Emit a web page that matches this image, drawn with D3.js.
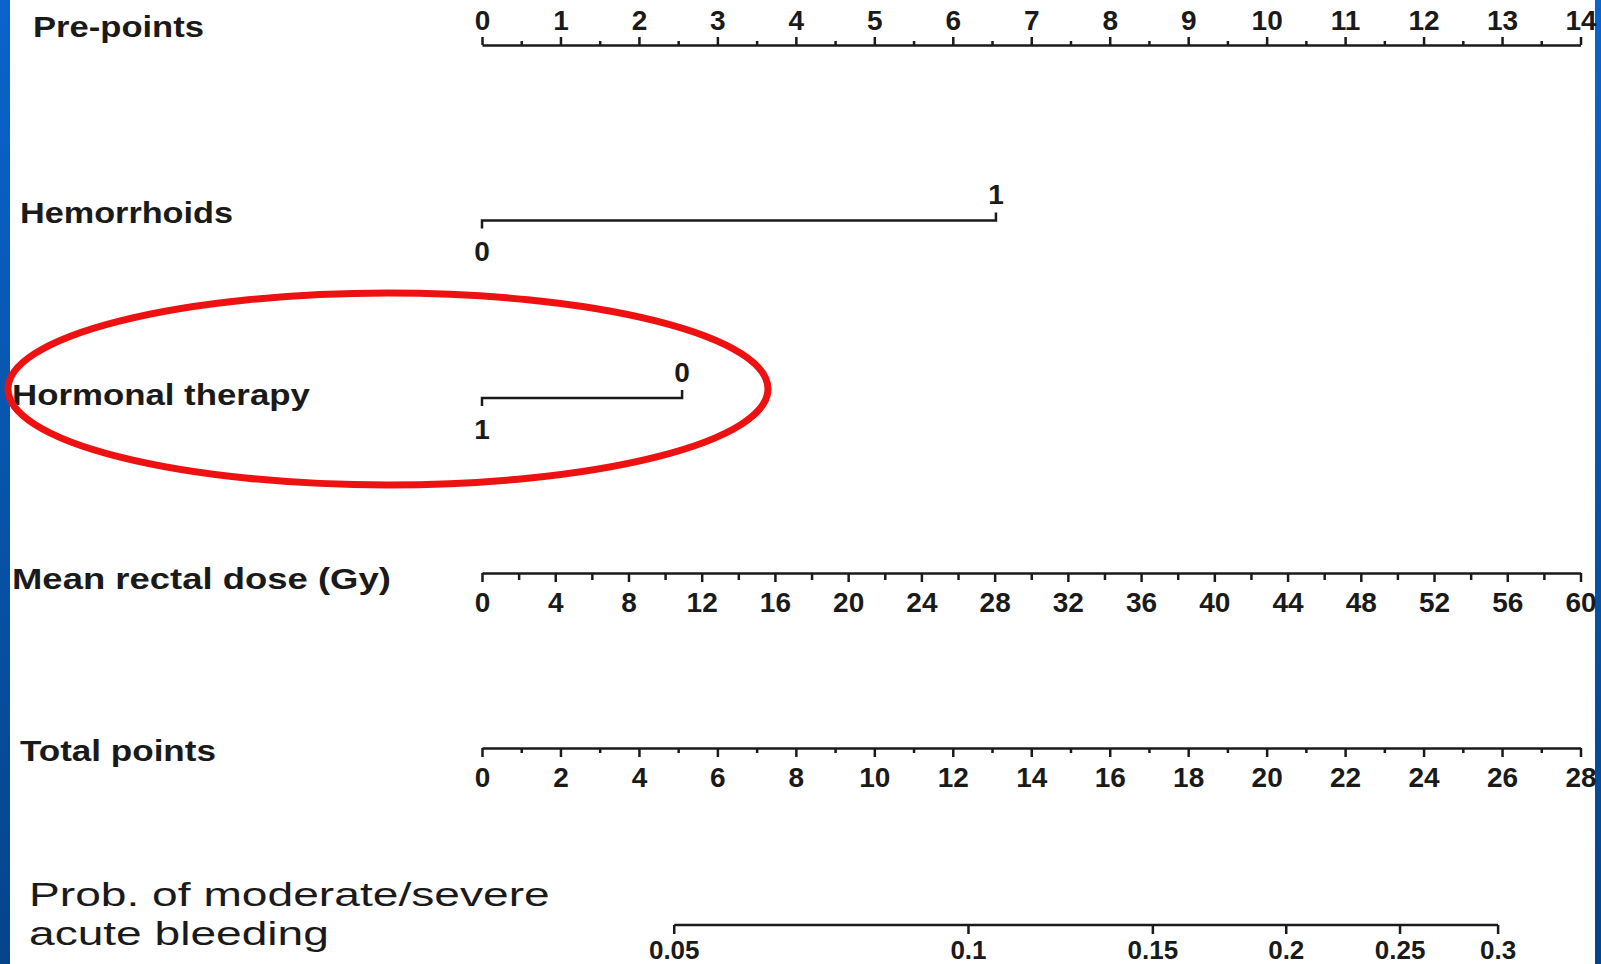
<!DOCTYPE html>
<html>
<head>
  <meta charset="utf-8">
  <title>Nomogram - acute rectal bleeding</title>
  <style>
   html,
   body {
     width: 100%;
     height: 100%;
     margin: 0;
     padding: 0;
     background: #fff;
     overflow: hidden;
   }
   svg { display: block; }
   .axis path,
   .axis line {
     stroke: #1a1a1a;
     stroke-width: 2.5px;
     fill: none;
   }
   .axis text,
   .level {
     font-family: "Liberation Sans", Arial, sans-serif;
     font-size: 28px;
     font-weight: bold;
     fill: #1a1a1a;
   }
   .title {
     font-family: "Liberation Sans", Arial, sans-serif;
     fill: #1a1a1a;
   }
 </style>
</head>
<body>
  <div id="chart"></div>

  <script src="https://d3js.org/d3.v7.min.js"></script>
  <script>
// values
var prePointTicks = [0, 1, 2, 3, 4, 5, 6, 7, 8, 9, 10, 11, 12, 13, 14];
var prePointMinor = [0.5, 1.5, 2.5, 3.5, 4.5, 5.5, 6.5, 7.5, 8.5, 9.5, 10.5, 11.5, 12.5, 13.5];

var hemorrhoidLevels = ["0", "1"];
var hemorrhoidPoints = [0, 6.55];

var hormonalLevels = ["1", "0"];
var hormonalPoints = [0, 2.55];

var doseTicks = [0, 4, 8, 12, 16, 20, 24, 28, 32, 36, 40, 44, 48, 52, 56, 60];
var doseMinor = [2, 6, 10, 14, 18, 22, 26, 30, 34, 38, 42, 46, 50, 54, 58];
var doseMaxPoints = 14;   // 60 Gy gives 14 pre-points

var totalTicks = [0, 2, 4, 6, 8, 10, 12, 14, 16, 18, 20, 22, 24, 26, 28];
var totalMinor = [1, 3, 5, 7, 9, 11, 13, 15, 17, 19, 21, 23, 25, 27];

var probTicks = [0.05, 0.1, 0.15, 0.2, 0.25, 0.3];
var probAtTotal = [4.9, 12.4, 17.1, 20.5, 23.4, 25.9];

var titles = ["Pre-points", "Hemorrhoids", "Hormonal therapy", "Mean rectal dose (Gy)", "Total points"];
var probTitle = ["Prob. of moderate/severe", "acute bleeding"];

var width = 1601;
var height = 964;

var svg = d3.select("#chart")
  .append("svg")
  .attr("width", width)
  .attr("height", height);

// blue slide frame
var grad = svg.append("defs").append("linearGradient")
  .attr("id", "frame")
  .attr("x1", 0).attr("y1", 0).attr("x2", 0).attr("y2", 1);
grad.append("stop").attr("offset", "0%").attr("stop-color", "#0a64cc");
grad.append("stop").attr("offset", "100%").attr("stop-color", "#05448a");

svg.append("rect").attr("x", 0).attr("y", 0).attr("width", 10).attr("height", height).attr("fill", "url(#frame)");
svg.append("rect").attr("x", 1595).attr("y", 0).attr("width", 6).attr("height", height).attr("fill", "url(#frame)");

// scales
var x = d3.scaleLinear().domain([0, 14]).range([482, 1580.5]);
var xDose = d3.scaleLinear().domain([0, 60]).range([x(0), x(doseMaxPoints)]);
var xTotal = d3.scaleLinear().domain([0, 28]).range([482, 1580.5]);

// stretch a text horizontally so it spans w pixels (the slide image is widened)
function stretchTo(sel, px, py, w) {
  sel.each(function(d, i) {
    var natural = this.getComputedTextLength();
    var s = w(d, i) / natural;
    d3.select(this).attr("transform",
      "translate(" + px(d, i) + "," + py(d, i) + ") scale(" + s + ",1)");
  });
}

// row titles
var titleLayout = [
  {x: 33, y: 27, w: 171},
  {x: 20, y: 213, w: 213},
  {x: 12, y: 395, w: 298},
  {x: 12, y: 579, w: 379},
  {x: 20, y: 751, w: 196}
];

var rowText = svg.selectAll(".title.row")
  .data(titles)
  .enter()
  .append("text")
  .attr("class", "title row")
  .attr("dominant-baseline", "central")
  .style("font-size", "29px")
  .style("font-weight", "bold")
  .text(function(d) { return d; });
stretchTo(rowText,
  function(d, i) { return titleLayout[i].x; },
  function(d, i) { return titleLayout[i].y; },
  function(d, i) { return titleLayout[i].w; });

var probText = svg.selectAll(".title.prob")
  .data(probTitle)
  .enter()
  .append("text")
  .attr("class", "title prob")
  .attr("dominant-baseline", "central")
  .style("font-size", "33px")
  .text(function(d) { return d; });
stretchTo(probText,
  function() { return 29; },
  function(d, i) { return 895 + i * 38; },
  function(d, i) { return i === 0 ? 521 : 300; });

// Pre-points
var preY = 45;
svg.append("g")
  .attr("class", "axis")
  .attr("transform", "translate(0," + preY + ")")
  .call(d3.axisTop(x).tickValues(prePointTicks).tickSize(8).tickSizeOuter(0).tickPadding(7));
svg.append("g")
  .attr("class", "axis")
  .attr("transform", "translate(0," + preY + ")")
  .call(d3.axisTop(x).tickValues(prePointMinor).tickSize(4).tickSizeOuter(0).tickFormat(""))
  .select(".domain").remove();

// two-level rows: low end tick down with label below, high end tick up with label above
function levelRow(y, levels, points) {
  var g = svg.append("g").attr("class", "axis");
  var x0 = x(points[0]), x1 = x(points[1]);
  g.append("path")
    .attr("d", "M" + x0 + "," + (y + 8) + "V" + y + "H" + x1 + "V" + (y - 8));
  g.append("text")
    .attr("class", "level")
    .attr("x", x0).attr("y", y + 31)
    .attr("text-anchor", "middle")
    .attr("dominant-baseline", "central")
    .text(levels[0]);
  g.append("text")
    .attr("class", "level")
    .attr("x", x1).attr("y", y - 26)
    .attr("text-anchor", "middle")
    .attr("dominant-baseline", "central")
    .text(levels[1]);
}

levelRow(220.5, hemorrhoidLevels, hemorrhoidPoints);
levelRow(398, hormonalLevels, hormonalPoints);

// Mean rectal dose
var doseY = 573;
svg.append("g")
  .attr("class", "axis")
  .attr("transform", "translate(0," + doseY + ")")
  .call(d3.axisBottom(xDose).tickValues(doseTicks).tickSize(9).tickSizeOuter(0).tickPadding(10));
svg.append("g")
  .attr("class", "axis")
  .attr("transform", "translate(0," + doseY + ")")
  .call(d3.axisBottom(xDose).tickValues(doseMinor).tickSize(7).tickFormat(""))
  .select(".domain").remove();

// Total points
var totalY = 748;
svg.append("g")
  .attr("class", "axis")
  .attr("transform", "translate(0," + totalY + ")")
  .call(d3.axisBottom(xTotal).tickValues(totalTicks).tickSize(9).tickSizeOuter(0).tickPadding(10));
svg.append("g")
  .attr("class", "axis")
  .attr("transform", "translate(0," + totalY + ")")
  .call(d3.axisBottom(xTotal).tickValues(totalMinor).tickSize(5).tickFormat(""))
  .select(".domain").remove();

// Probability
var probY = 925;
var probG = svg.append("g")
  .attr("class", "axis")
  .attr("transform", "translate(0," + probY + ")");
probG.append("path")
  .attr("d", "M" + xTotal(probAtTotal[0]) + ",0H" + xTotal(probAtTotal[probAtTotal.length - 1]));
var probTick = probG.selectAll(".ptick")
  .data(probTicks)
  .enter()
  .append("g")
  .attr("class", "ptick")
  .attr("transform", function(d, i) { return "translate(" + xTotal(probAtTotal[i]) + ",0)"; });
probTick.append("line").attr("y2", 9);
probTick.append("text")
  .attr("y", 25)
  .attr("text-anchor", "middle")
  .attr("dominant-baseline", "central")
  .style("font-size", "26px")
  .text(function(d) { return d; });

// red highlight around hormonal therapy
svg.append("ellipse")
  .attr("cx", 388)
  .attr("cy", 389)
  .attr("rx", 380)
  .attr("ry", 96)
  .attr("fill", "none")
  .attr("stroke", "#ee1111")
  .attr("stroke-width", 7);
  </script>
</body>
</html>
